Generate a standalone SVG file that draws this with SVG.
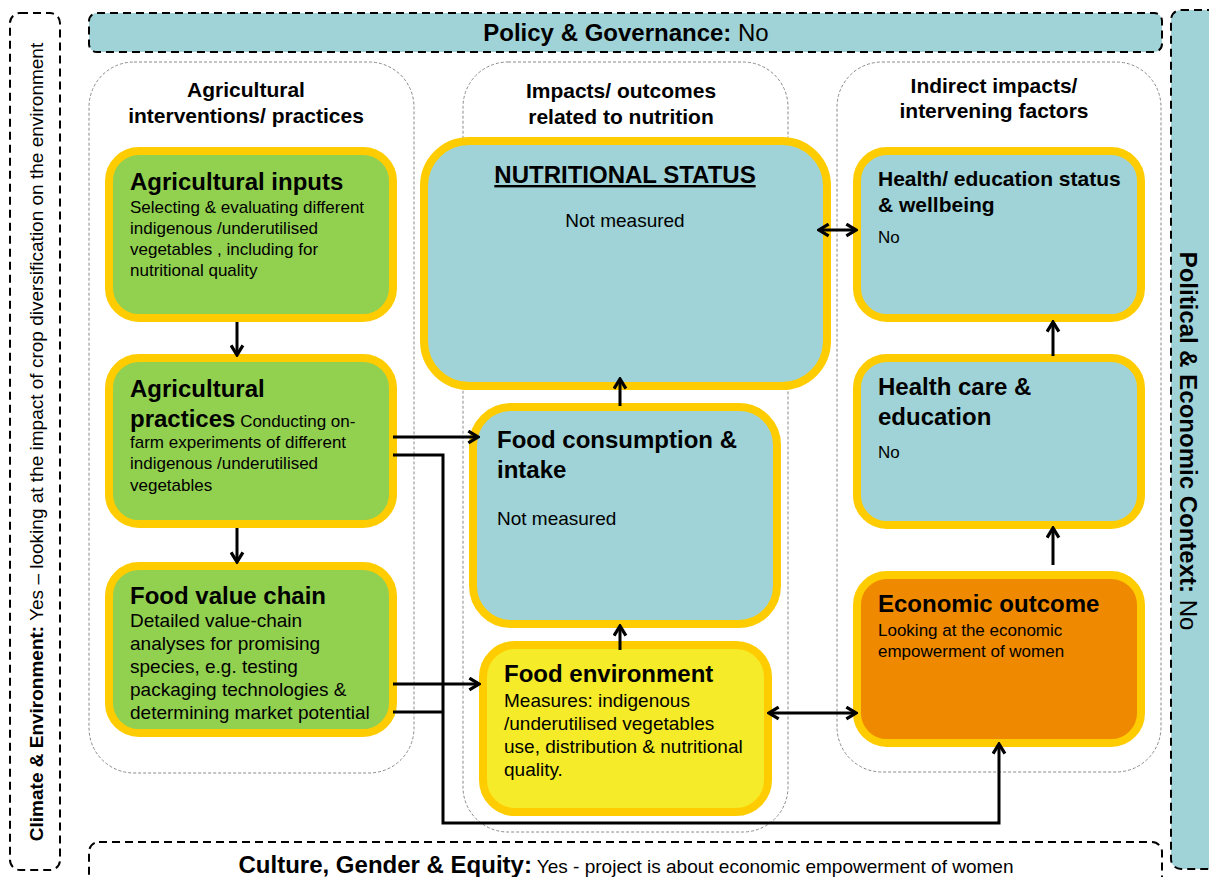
<svg xmlns="http://www.w3.org/2000/svg" width="1209" height="877" viewBox="0 0 1209 877">
<defs>
<style>
.t{font-family:"Liberation Sans",Arial,sans-serif;fill:#000}
.b{font-weight:bold}
.dash{fill:none;stroke:#000;stroke-width:2;stroke-dasharray:8 5}
.panel{fill:none;stroke:#8a8a8a;stroke-width:1;stroke-dasharray:3 2}
.node{stroke:#FFCC00;stroke-width:8}
.teal{fill:#9FD3D7}
.green{fill:#92D050}
.yel{fill:#F5EB28}
.org{fill:#EF8A00}
.c{fill:none;stroke:#000;stroke-width:3}
</style>
<marker id="ah" viewBox="0 0 14 14" refX="12" refY="7" markerWidth="15" markerHeight="15" markerUnits="userSpaceOnUse" orient="auto-start-reverse">
<path d="M3,1.5 L12,7 L3,12.5" fill="none" stroke="#000" stroke-width="3"/>
</marker>
</defs>
<rect width="1209" height="877" fill="#fff"/>

<g id="frame-climate">
<rect x="10" y="13" width="50" height="857" rx="10" class="dash"/>
<text class="t" font-size="19" transform="translate(43,442) rotate(-90)" text-anchor="middle"><tspan class="b">Climate &amp; Environment:</tspan> Yes – looking at the impact of crop diversification on the environment</text>
</g>
<g id="frame-policy">
<rect x="89" y="13" width="1073" height="39" rx="8" class="dash teal"/>
<text class="t" font-size="24" x="626" y="41" text-anchor="middle"><tspan class="b">Policy &amp; Governance:</tspan> No</text>
</g>
<g id="frame-political">
<rect x="1171" y="10" width="60" height="859" rx="10" class="dash teal"/>
<text class="t" font-size="24" transform="translate(1180,441) rotate(90)" text-anchor="middle"><tspan class="b">Political &amp; Economic Context:</tspan> No</text>
</g>
<g id="frame-culture">
<rect x="89" y="842" width="1073" height="60" rx="10" class="dash"/>
<text class="t" font-size="19" x="626" y="873" text-anchor="middle"><tspan class="b" font-size="24">Culture, Gender &amp; Equity:</tspan> Yes - project is about economic empowerment of women</text>
</g>

<g id="panel-agri">
<rect x="89" y="62" width="325" height="711" rx="45" class="panel"/>
<text class="t b" font-size="21" text-anchor="middle"><tspan x="246" y="97">Agricultural</tspan><tspan x="246" y="123">interventions/ practices</tspan></text>
</g>
<g id="panel-impacts">
<rect x="463" y="62" width="325" height="770" rx="45" class="panel"/>
<text class="t b" font-size="21" text-anchor="middle"><tspan x="621" y="98">Impacts/ outcomes</tspan><tspan x="621" y="124">related to nutrition</tspan></text>
</g>
<g id="panel-indirect">
<rect x="837" y="62" width="324" height="710" rx="45" class="panel"/>
<text class="t b" font-size="21" text-anchor="middle"><tspan x="994" y="93">Indirect impacts/</tspan><tspan x="994" y="118">intervening factors</tspan></text>
</g>

<g id="node-inputs">
<rect x="109" y="151" width="284" height="167" rx="30" class="node green"/>
<text class="t b" font-size="24" x="130" y="190">Agricultural inputs</text>
<text class="t" font-size="17"><tspan x="130" y="213">Selecting &amp; evaluating different</tspan><tspan x="130" y="234">indigenous /underutilised</tspan><tspan x="130" y="255">vegetables , including for</tspan><tspan x="130" y="276">nutritional quality</tspan></text>
</g>
<g id="node-practices">
<rect x="109" y="358" width="284" height="166" rx="30" class="node green"/>
<text class="t b" font-size="24" x="130" y="397">Agricultural</text>
<text class="t" font-size="17"><tspan x="130" y="427" class="b" font-size="24">practices</tspan> Conducting on-<tspan x="130" y="448">farm experiments of different</tspan><tspan x="130" y="469">indigenous /underutilised</tspan><tspan x="130" y="491">vegetables</tspan></text>
</g>
<g id="node-valuechain">
<rect x="109" y="566" width="284" height="167" rx="30" class="node green"/>
<text class="t b" font-size="24" x="130" y="604">Food value chain</text>
<text class="t" font-size="19"><tspan x="130" y="627">Detailed value-chain</tspan><tspan x="130" y="650">analyses for promising</tspan><tspan x="130" y="673">species, e.g. testing</tspan><tspan x="130" y="696">packaging technologies &amp;</tspan><tspan x="130" y="719">determining market potential</tspan></text>
</g>
<g id="node-nutrition">
<rect x="424" y="141" width="403" height="245" rx="45" class="node teal"/>
<text class="t b" font-size="24" x="625" y="183" text-anchor="middle" text-decoration="underline">NUTRITIONAL STATUS</text>
<text class="t" font-size="19" x="625" y="227" text-anchor="middle">Not measured</text>
</g>
<g id="node-consumption">
<rect x="473" y="407" width="304" height="217" rx="38" class="node teal"/>
<text class="t b" font-size="24"><tspan x="497" y="448">Food consumption &amp;</tspan><tspan x="497" y="478">intake</tspan></text>
<text class="t" font-size="19" x="497" y="525">Not measured</text>
</g>
<g id="node-foodenv">
<rect x="483" y="645" width="285" height="167" rx="32" class="node yel"/>
<text class="t b" font-size="24" x="504" y="682">Food environment</text>
<text class="t" font-size="19"><tspan x="504" y="707">Measures: indigenous</tspan><tspan x="504" y="730">/underutilised vegetables</tspan><tspan x="504" y="753">use, distribution &amp; nutritional</tspan><tspan x="504" y="776">quality.</tspan></text>
</g>
<g id="node-healthstatus">
<rect x="857" y="151" width="284" height="167" rx="30" class="node teal"/>
<text class="t b" font-size="21"><tspan x="878" y="186">Health/ education status</tspan><tspan x="878" y="212">&amp; wellbeing</tspan></text>
<text class="t" font-size="17" x="878" y="243">No</text>
</g>
<g id="node-healthcare">
<rect x="857" y="358" width="284" height="167" rx="30" class="node teal"/>
<text class="t b" font-size="24"><tspan x="878" y="395">Health care &amp;</tspan><tspan x="878" y="425">education</tspan></text>
<text class="t" font-size="17" x="878" y="458">No</text>
</g>
<g id="node-economic">
<rect x="857" y="575" width="284" height="168" rx="30" class="node org"/>
<text class="t b" font-size="24" x="878" y="612">Economic outcome</text>
<text class="t" font-size="17"><tspan x="878" y="636">Looking at the economic</tspan><tspan x="878" y="657">empowerment of women</tspan></text>
</g>

<g id="connectors">
<line x1="237" y1="322" x2="237" y2="355" class="c" marker-end="url(#ah)"/>
<line x1="237" y1="528" x2="237" y2="562" class="c" marker-end="url(#ah)"/>
<line x1="393" y1="437" x2="478" y2="437" class="c" marker-end="url(#ah)"/>
<polyline points="393,455 443,455 443,823 999,823 999,744" class="c" marker-end="url(#ah)"/>
<line x1="393" y1="712" x2="443" y2="712" class="c"/>
<line x1="393" y1="684" x2="479" y2="684" class="c" marker-end="url(#ah)"/>
<line x1="620" y1="650" x2="620" y2="626" class="c" marker-end="url(#ah)"/>
<line x1="620" y1="406" x2="620" y2="379" class="c" marker-end="url(#ah)"/>
<line x1="819" y1="230" x2="856" y2="230" class="c" marker-start="url(#ah)" marker-end="url(#ah)"/>
<line x1="769" y1="713" x2="856" y2="713" class="c" marker-start="url(#ah)" marker-end="url(#ah)"/>
<line x1="1053" y1="565" x2="1053" y2="528" class="c" marker-end="url(#ah)"/>
<line x1="1053" y1="356" x2="1053" y2="322" class="c" marker-end="url(#ah)"/>
</g>
</svg>
